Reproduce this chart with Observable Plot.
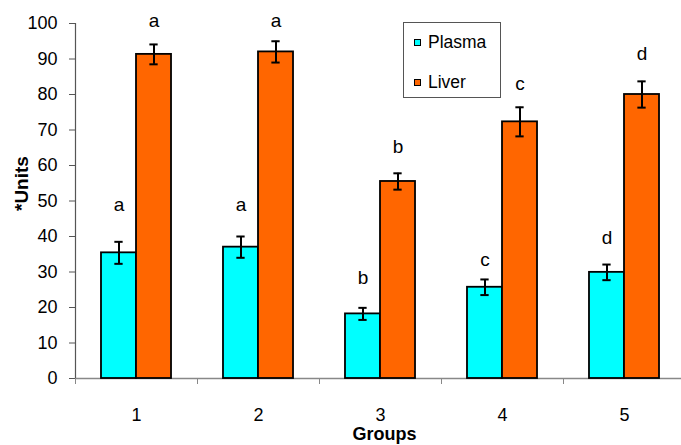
<!DOCTYPE html>
<html><head><meta charset="utf-8">
<script src="https://cdn.jsdelivr.net/npm/d3@7"></script>
<script src="https://cdn.jsdelivr.net/npm/@observablehq/plot@0.6"></script>
<style>
body{margin:0;background:#fff;}
#wrap{position:relative;width:681px;height:445px;overflow:hidden;font-family:Arial,"Liberation Sans",sans-serif;}
#legend{position:absolute;left:403px;top:22px;width:96px;height:74px;border:1px solid #555;background:#fff;}
.item{position:absolute;left:10px;height:20px;display:flex;align-items:center;font-size:17.5px;color:#000;}
.sw{width:5px;height:5px;border:1.5px solid #000;margin-right:7px;}
</style></head>
<body><div id="wrap"></div>
<script>
const groups = [1, 2, 3, 4, 5];
const groupLabels = ["1", "2", "3", "4", "5"];
const series = ["Plasma", "Liver"];
const colors = ["#00FFFF", "#FF6600"];
const plasma = [35.4, 37.0, 18.2, 25.7, 29.9];
const plasmaErr = [3.1, 3.0, 1.7, 2.2, 2.2];
const liver = [91.3, 92.0, 55.5, 72.3, 80.0];
const liverErr = [2.8, 3.0, 2.3, 4.1, 3.7];
const plasmaLetters = ["a", "a", "b", "c", "d"];
const liverLetters = ["a", "a", "b", "c", "d"];
const plasmaLetterY = [49.0, 49.0, 28.2, 33.5, 39.7];
const liverLetterY = [100.8, 100.8, 65.1, 83.1, 91.3];
const yTicks = [0, 10, 20, 30, 40, 50, 60, 70, 80, 90, 100];

const barW = 0.287, capW = 0.034;
const rows = [];
groups.forEach((g, i) => {
  rows.push({group: g, series: "Plasma", side: -1, value: plasma[i], err: plasmaErr[i], letter: plasmaLetters[i], ly: plasmaLetterY[i]});
  rows.push({group: g, series: "Liver", side: 1, value: liver[i], err: liverErr[i], letter: liverLetters[i], ly: liverLetterY[i]});
});
const cx = d => d.group + d.side * barW / 2;
const bounds = groups.map(g => g - 0.5).concat([groups[groups.length - 1] + 0.5]);

const chart = Plot.plot({
  width: 681, height: 445,
  marginLeft: 75, marginTop: 23, marginBottom: 67, marginRight: 0,
  style: {fontFamily: "Arial, 'Liberation Sans', sans-serif", fontSize: "18px", color: "#000", background: "#fff"},
  x: {type: "linear", domain: [0.5, 5.5], range: [75, 685]},
  y: {domain: [0, 100]},
  color: {domain: series, range: colors},
  marks: [
    Plot.ruleY([0], {stroke: "#888", strokeWidth: 1.5}),
    Plot.rectY(rows, {x1: d => d.side < 0 ? d.group - barW : d.group, x2: d => d.side < 0 ? d.group : d.group + barW, y1: 0, y2: "value", fill: "series", stroke: "#000", strokeWidth: 1.8}),
    Plot.ruleX(rows, {x: cx, y1: d => d.value - d.err, y2: d => d.value + d.err, stroke: "#000", strokeWidth: 2}),
    Plot.ruleY(rows, {y: d => d.value + d.err, x1: d => cx(d) - capW, x2: d => cx(d) + capW, stroke: "#000", strokeWidth: 2}),
    Plot.ruleY(rows, {y: d => d.value - d.err, x1: d => cx(d) - capW, x2: d => cx(d) + capW, stroke: "#000", strokeWidth: 2}),
    Plot.text(rows, {x: cx, y: "ly", text: "letter", fontSize: 19, fill: "#000"}),
    Plot.ruleX([0.5], {y1: 0, y2: 100, stroke: "#555", strokeWidth: 1.2}),
    Plot.axisY({ticks: yTicks, tickSize: 6, tickPadding: 12, fontSize: 18, stroke: "#555", label: null}),
    Plot.axisX({ticks: bounds, tickSize: 6, tickFormat: () => "", stroke: "#888", label: null}),
    Plot.axisX({ticks: groups, tickSize: 0, tickPadding: 30, fontSize: 18, tickFormat: d => groupLabels[groups.indexOf(d)], label: null}),
    Plot.text(["Groups"], {frameAnchor: "bottom", dx: 6, dy: 61, fontWeight: "bold", fontSize: 18, fill: "#000"}),
    Plot.text(["*Units"], {frameAnchor: "left", rotate: -90, dx: -54, dy: 10, fontWeight: "bold", fontSize: 19, fill: "#000"})
  ]
});
const wrap = document.getElementById("wrap");
wrap.appendChild(chart);
const legend = document.createElement("div");
legend.id = "legend";
series.forEach((s, i) => {
  const it = document.createElement("div");
  it.className = "item";
  it.style.top = (i === 0 ? 9 : 49) + "px";
  const sw = document.createElement("span");
  sw.className = "sw";
  sw.style.background = colors[i];
  it.appendChild(sw);
  it.appendChild(document.createTextNode(s));
  legend.appendChild(it);
});
wrap.appendChild(legend);
</script>
</body></html>
